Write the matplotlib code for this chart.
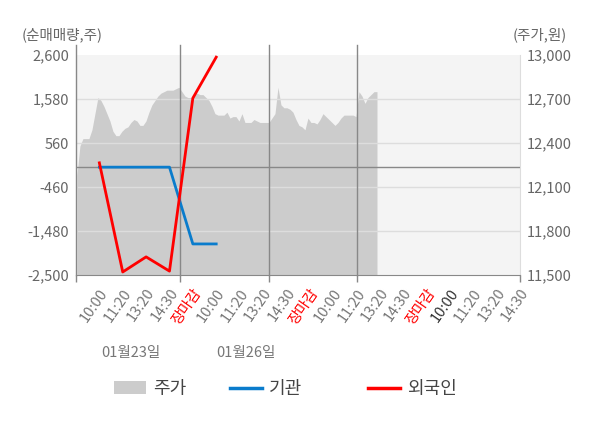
import numpy as np
import matplotlib
matplotlib.use('Agg')
import matplotlib.pyplot as plt
from matplotlib.lines import Line2D
from matplotlib.patches import Patch

plt.rcParams['font.family'] = ['Noto Sans CJK KR', 'DejaVu Sans']

# 주가 (원), 일정 간격 샘플
price = [12180, 12380, 12430, 12430, 12430, 12490, 12600, 12710, 12690, 12650,
         12600, 12550, 12480, 12450, 12450, 12480, 12500, 12510, 12540, 12560,
         12550, 12520, 12520, 12550, 12610, 12660, 12690, 12720, 12740, 12750,
         12760, 12760, 12760, 12770, 12780, 12750, 12720, 12710, 12710, 12730,
         12740, 12730, 12730, 12710, 12690, 12650, 12600, 12590, 12590, 12590,
         12610, 12570, 12580, 12580, 12550, 12600, 12540, 12540, 12540, 12560,
         12550, 12540, 12540, 12540, 12540, 12570, 12600, 12780, 12660, 12640,
         12640, 12630, 12610, 12560, 12520, 12510, 12490, 12570, 12540, 12540,
         12530, 12560, 12600, 12580, 12560, 12540, 12520, 12540, 12570, 12590,
         12590, 12590, 12590, 12580, 12750, 12720, 12670, 12710, 12730, 12750,
         12750]
price_start, price_end = -0.96, 11.88   # 카테고리 축 위치
day_breaks = [3.45, 7.26, 11.02]

# 순매매량 (주)
inst = [0, 0, 0, 0, -1780, -1780]        # 기관
foreign = [100, -2430, -2080, -2410, 1600, 2550]   # 외국인

xlabels = ['10:00', '11:20', '13:20', '14:30', '장마감',
           '10:00', '11:20', '13:20', '14:30', '장마감',
           '10:00', '11:20', '13:20', '14:30', '장마감',
           '10:00', '11:20', '13:20', '14:30']
xcolors = ['#777777'] * 4 + ['#ff0000'] + ['#777777'] * 4 + ['#ff0000'] + \
          ['#777777'] * 4 + ['#ff0000'] + ['#333333'] + ['#777777'] * 3
dates = ['01월23일', '01월26일']

left_ticks = [2600, 1580, 560, -460, -1480, -2500]
right_ticks = [13000, 12700, 12400, 12100, 11800, 11500]

fig = plt.figure(figsize=(6, 4.28), dpi=100)
ax = fig.add_axes([76 / 600, 1 - 275 / 428, 444 / 600, 220 / 428])
ax.set_facecolor('#f4f4f4')
ax2 = ax.twinx()

px = np.linspace(price_start, price_end, len(price))
ax.fill_between(px, 11500, price, color='#cccccc', lw=0)
ax.set_ylim(11500, 13000)
ax.set_xlim(-1, 18)
ax.yaxis.tick_right()
ax.set_yticks(right_ticks)
ax.set_yticklabels([f'{v:,}' for v in right_ticks])
ax.tick_params(axis='y', length=0, labelsize=10.5, labelcolor='#666666', pad=5)

# 날짜 구분 눈금(주) + 시간 라벨(보조)
ax.xaxis.remove_overlapping_locs = False
ax.set_xticks([-1] + day_breaks + [18])
ax.set_xticklabels([])
ax.tick_params(axis='x', which='major', length=5, color='#888888', width=1)
ax.set_xticks(range(len(xlabels)), minor=True)
ax.set_xticklabels(xlabels, minor=True, rotation=55, ha='right', va='top',
                   rotation_mode='anchor', fontsize=10.5)
ax.tick_params(axis='x', which='minor', length=0, pad=8)
for t, c in zip(ax.get_xticklabels(minor=True), xcolors):
    t.set_color(c)

for s in ['top', 'left']:
    ax.spines[s].set_visible(False)
ax.spines['bottom'].set_color('#888888')
ax.spines['right'].set_color('#dddddd')

ax2.patch.set_visible(False)
ax2.yaxis.tick_left()
ax2.set_ylim(-2500, 2600)
ax2.set_yticks(left_ticks)
ax2.set_yticklabels([f'{v:,}' for v in left_ticks])
ax2.tick_params(axis='y', length=0, labelsize=10.5, labelcolor='#666666', pad=5)
for s in ['top', 'right', 'bottom', 'left']:
    ax2.spines[s].set_visible(False)

for v in left_ticks[1:-1]:
    ax2.axhline(v, color='#dddddd', lw=1, zorder=1)
ax2.axhline(0, color='#888888', lw=1, zorder=1)
for d in day_breaks:
    ax2.axvline(d, ymin=0, ymax=1.045, color='#888888', lw=1, zorder=1, clip_on=False)
ax2.add_line(Line2D([0, 0], [0, 1.045], transform=ax2.transAxes, color='#888888',
                    lw=1, clip_on=False))

ax2.plot(range(len(inst)), inst, color='#0a7ccc', lw=2, zorder=3)
ax2.plot(range(len(foreign)), foreign, color='#ff0000', lw=2, zorder=4)

fig.text(22 / 600, 1 - 35 / 428, '(순매매량,주)', fontsize=10.5, color='#666666', va='center')
fig.text(567 / 600, 1 - 35 / 428, '(주가,원)', fontsize=10.5, color='#666666',
         va='center', ha='right')

fig.text(131 / 600, 1 - 353 / 428, dates[0], fontsize=10.5, color='#777777',
         ha='center', va='center')
fig.text(246 / 600, 1 - 353 / 428, dates[1], fontsize=10.5, color='#777777',
         ha='center', va='center')

handles = [Patch(facecolor='#cccccc', edgecolor='none', label='주가'),
           Line2D([], [], color='#0a7ccc', lw=2.5, label='기관'),
           Line2D([], [], color='#ff0000', lw=2.5, label='외국인')]
for h, x0 in zip(handles, [114, 230, 368]):
    fig.legend(handles=[h], loc='center left', bbox_to_anchor=(x0 / 600, 1 - 389 / 428),
               frameon=False, fontsize=13, handlelength=1.77, handleheight=0.75,
               handletextpad=0.4, borderpad=0, borderaxespad=0, labelcolor='#444444')

fig.savefig('out.png', dpi=100)
